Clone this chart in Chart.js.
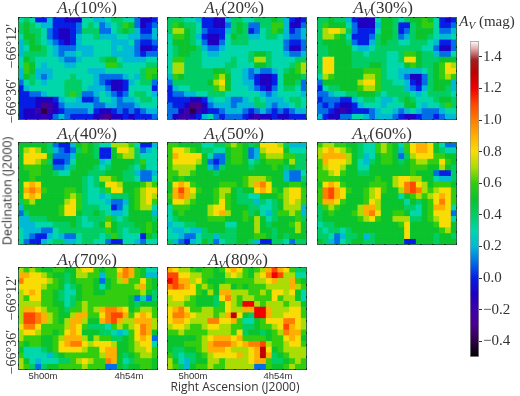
<!DOCTYPE html>
<html>
<head>
<meta charset="utf-8">
<script src="https://cdn.jsdelivr.net/npm/chart.js@4"></script>
<style>
  html, body { margin: 0; padding: 0; background: #fff; }
  body { position: relative; width: 520px; height: 396px; overflow: hidden; }
  canvas { position: absolute; }
  .panel { filter: blur(0.6px); }
  .txt { position: absolute; white-space: nowrap; color: #333; }
  .ttl { font: 17px "Liberation Serif", serif; transform: translateX(-50%); }
  .ttl sub { font-size: 11px; font-style: italic; vertical-align: -3px; line-height: 0; }
  .sans { font-family: "Open Sans", "Noto Sans", sans-serif; }
  .rot { transform: translate(-50%, -50%) rotate(-90deg); }
  .mid { transform: translateX(-50%); }
</style>
</head>
<body>
<script>
// Av maps, values in tenths of a mag, 18 rows (north first) x 24 columns
const av10 = [
[3,4,3,0,0,2,0,0,-1,-1,-1,3,3,2,2,3,4,4,3,3,1,-1,-1,0],
[4,5,4,3,2,2,0,0,0,0,1,3,4,3,1,2,3,4,6,5,1,-1,0,1],
[4,5,4,4,3,1,0,-1,-1,0,1,4,4,4,1,1,3,4,5,4,2,0,0,2],
[3,5,5,4,3,1,0,-1,-1,0,2,3,3,4,2,2,2,3,3,2,2,1,1,2],
[2,4,5,4,3,2,1,0,-1,0,2,3,3,3,3,3,2,2,2,3,1,0,0,1],
[2,3,5,5,4,3,2,1,1,1,2,2,2,3,3,3,2,3,2,2,1,-1,-1,0],
[2,4,4,4,4,3,2,1,2,2,3,2,2,3,3,3,2,2,2,2,1,0,1,1],
[3,5,4,3,3,3,3,2,1,1,2,3,3,3,4,5,5,3,2,2,2,2,3,3],
[3,6,5,3,2,3,3,3,2,2,3,3,3,3,3,6,6,4,3,3,3,3,4,4],
[2,6,5,2,2,2,3,3,3,3,3,3,2,2,2,3,3,3,3,3,3,4,6,6],
[2,5,4,2,1,2,3,3,3,4,3,3,3,2,1,1,1,1,2,3,2,4,6,5],
[1,3,4,3,2,3,3,3,4,4,4,3,3,2,1,0,-1,-1,0,2,3,4,4,1],
[0,2,3,3,3,3,3,3,4,4,4,3,2,2,2,1,-1,-1,0,3,3,3,3,0],
[0,0,1,1,2,3,3,3,4,6,4,1,1,2,3,2,1,0,1,3,4,4,3,2],
[0,0,0,-1,-1,-1,0,2,3,3,2,0,0,1,3,3,2,1,2,2,3,4,4,3],
[0,0,0,-1,-3,-2,-1,1,2,2,2,2,2,1,1,2,2,1,1,1,2,3,3,3],
[0,-1,-1,-2,-4,-2,-1,0,1,1,1,1,2,0,-1,-1,0,1,0,1,0,1,2,2],
[0,-1,-1,-1,-2,-1,1,2,1,0,0,0,0,-1,-2,-3,-1,-1,0,-1,0,0,0,1]
];
const av20 = [
[4,4,4,3,3,2,0,0,-1,-1,2,4,4,3,3,4,4,4,5,4,2,0,-1,0],
[4,6,5,4,4,3,0,0,-1,-1,1,4,5,4,1,1,4,4,6,6,2,-1,-1,1],
[4,7,7,5,4,3,1,0,0,0,2,4,5,4,0,1,3,4,6,5,2,0,1,2],
[3,6,6,5,4,2,0,-1,-1,0,3,5,4,4,2,2,3,4,4,3,2,1,1,2],
[3,5,5,5,4,3,1,-1,-1,1,3,4,4,4,3,3,3,3,3,3,1,0,0,1],
[3,4,5,5,5,4,2,1,1,2,3,3,3,3,3,3,3,3,3,3,1,-1,-1,1],
[3,4,5,5,4,4,3,2,2,3,3,3,3,3,4,5,5,4,3,3,2,1,1,2],
[3,6,6,4,4,4,3,3,3,3,3,4,3,3,4,7,7,4,3,3,3,3,4,4],
[3,7,7,4,4,4,3,3,3,3,4,4,3,3,3,5,5,4,3,3,3,4,6,7],
[3,7,7,4,4,4,4,4,5,5,4,3,3,2,1,2,1,1,2,3,4,5,6,7],
[2,6,5,4,4,4,4,4,6,7,5,3,3,2,1,0,-1,-1,0,3,5,5,5,4],
[1,4,4,4,4,4,4,5,7,8,5,3,3,2,2,0,-1,-1,0,3,5,5,4,1],
[0,2,3,3,4,4,4,4,6,7,5,3,3,3,2,1,0,-1,1,3,4,4,3,1],
[0,1,1,2,2,3,3,4,4,4,3,3,3,3,3,3,2,1,2,3,3,3,3,2],
[0,0,0,0,-1,-1,0,2,3,3,2,1,1,2,3,4,3,2,2,2,3,4,4,3],
[1,0,0,-1,-3,-3,-1,1,2,2,2,1,2,2,2,4,4,2,1,2,2,3,4,3],
[1,1,-1,-2,-4,-2,-1,0,0,1,2,2,2,1,0,1,2,1,0,1,0,1,2,2],
[1,-1,-2,-2,-1,0,2,3,1,0,1,1,1,0,-1,-2,-1,-1,0,-1,-1,0,0,0]
];
const av30 = [
[4,4,5,4,4,2,0,-1,-1,-1,3,5,5,4,3,4,5,5,6,5,3,0,-1,0],
[4,6,5,5,5,3,1,-1,-1,-1,2,5,5,4,0,0,4,5,6,6,3,0,0,1],
[4,7,8,8,7,4,1,0,0,0,3,5,5,4,0,1,4,5,5,5,3,1,1,2],
[4,7,7,6,5,3,0,0,0,1,4,5,5,4,1,2,4,5,5,4,3,2,2,3],
[4,5,5,5,5,4,1,0,0,2,4,5,4,4,3,3,4,4,4,3,2,0,0,1],
[4,4,5,5,5,5,3,2,2,3,4,4,4,4,4,4,4,4,3,3,1,-1,-1,1],
[4,4,5,5,5,5,4,4,3,4,4,4,3,3,4,6,6,5,4,4,2,1,1,3],
[4,8,8,5,5,5,4,4,4,4,4,4,3,3,4,8,8,5,4,4,4,5,5,5],
[4,8,8,5,5,5,4,4,4,5,5,4,3,3,3,5,6,5,4,4,5,6,8,7],
[4,8,8,5,5,5,5,5,6,6,6,4,3,3,2,2,2,2,3,4,5,6,8,8],
[3,7,6,5,5,5,5,5,7,7,6,4,3,3,2,1,-1,-1,1,4,5,6,7,6],
[1,5,5,5,5,5,5,7,8,8,6,4,4,3,3,2,0,-1,1,4,5,5,5,2],
[0,3,4,4,5,5,5,6,7,7,6,4,4,4,4,2,1,0,2,4,5,5,4,2],
[1,1,2,3,3,4,4,5,5,5,4,3,4,4,4,4,3,2,3,4,4,4,4,3],
[0,1,1,1,0,0,2,3,4,4,3,2,2,3,4,5,4,3,3,3,4,5,5,4],
[1,0,1,0,-1,-1,0,2,3,3,3,2,3,3,3,5,5,3,2,3,3,4,6,4],
[1,1,0,-1,-2,-1,0,0,0,1,2,3,3,2,1,2,3,2,1,1,1,2,3,3],
[2,0,-1,-1,1,1,3,3,2,1,2,2,2,1,0,-1,-1,0,1,1,0,1,2,2]
];
const av40 = [
[5,5,5,5,5,4,1,0,0,2,5,6,5,4,3,3,7,7,7,6,3,0,0,2],
[5,7,8,7,5,4,2,1,0,1,4,6,5,4,0,0,5,8,8,7,4,1,2,3],
[5,8,8,8,8,5,1,1,1,2,5,5,5,4,0,0,5,6,7,7,4,3,3,3],
[5,8,8,7,6,4,0,0,1,3,5,5,5,5,2,3,5,5,5,5,4,6,3,3],
[5,6,6,6,5,5,1,1,2,4,5,5,5,4,3,4,5,5,5,4,3,5,3,3],
[5,5,6,6,5,5,4,3,3,5,5,5,4,4,4,5,5,5,4,4,2,1,1,2],
[5,5,6,5,5,5,5,5,5,5,5,4,3,4,7,7,6,5,4,4,3,1,1,3],
[5,8,9,8,5,5,5,5,5,5,5,4,3,4,5,8,8,7,5,5,5,6,7,6],
[5,9,10,9,6,5,5,5,6,6,5,4,3,3,4,6,8,8,5,5,6,7,8,8],
[5,8,9,8,5,5,5,5,6,7,6,4,3,3,2,3,4,4,4,5,6,7,8,7],
[4,6,7,5,5,5,5,5,7,8,6,4,3,3,3,2,1,1,2,5,6,7,8,6],
[2,5,5,5,5,5,5,6,8,8,6,4,4,4,3,3,0,1,3,5,6,7,7,3],
[1,4,5,5,5,5,5,6,8,8,5,4,4,5,4,3,2,2,3,5,5,5,5,2],
[2,2,4,4,4,5,5,5,5,5,4,3,4,4,4,6,4,3,4,5,5,5,5,4],
[2,2,2,3,3,3,4,4,4,5,4,3,3,4,5,7,5,4,4,4,5,5,6,5],
[3,2,2,2,1,1,3,4,4,4,4,4,4,4,4,6,5,4,3,4,4,5,6,5],
[3,2,1,0,0,2,3,2,1,1,3,4,4,4,3,4,6,4,3,3,3,0,5,4],
[3,1,0,0,2,3,4,4,2,2,3,4,4,3,3,1,0,0,3,3,2,1,3,3]
];
const av50 = [
[6,6,5,5,5,5,3,3,4,4,6,7,6,5,4,5,8,8,8,7,4,2,2,2],
[6,8,8,7,6,5,4,4,3,3,5,6,6,5,1,2,7,8,8,8,5,3,3,3],
[6,9,8,8,8,8,5,3,1,1,5,6,6,5,1,2,6,7,7,7,6,6,4,4],
[6,8,8,8,8,7,5,1,0,1,5,6,6,5,3,4,5,6,6,6,5,7,4,4],
[6,7,7,7,7,5,5,2,1,4,5,5,5,5,4,5,5,5,6,5,4,5,4,4],
[6,6,7,7,6,5,5,5,4,5,5,5,5,5,5,5,5,5,5,5,2,1,1,3],
[6,5,6,5,5,5,5,5,5,5,5,5,5,6,7,7,7,6,5,5,2,1,1,4],
[5,8,9,8,6,5,5,5,5,6,6,6,5,6,7,9,10,8,5,5,5,6,6,5],
[5,9,11,9,8,6,5,5,6,7,7,5,4,5,5,8,9,8,6,5,7,8,8,6],
[6,9,10,9,7,5,5,5,6,7,6,5,4,4,3,3,5,5,5,6,7,8,8,6],
[5,8,8,7,6,5,5,5,6,8,6,5,4,4,4,2,4,3,4,5,7,8,7,6],
[3,6,6,6,5,5,5,7,8,8,6,5,5,5,4,4,3,3,4,5,7,7,7,2],
[3,5,6,5,5,5,5,7,8,9,7,5,5,6,4,5,3,2,4,6,6,7,6,2],
[3,4,5,5,5,5,5,6,6,6,5,5,5,6,5,7,5,3,4,5,5,5,6,4],
[2,3,3,4,4,5,5,5,5,5,3,3,5,5,5,7,5,4,5,5,5,6,7,5],
[3,2,2,3,2,2,4,5,5,5,4,4,5,5,5,7,5,5,4,5,5,5,7,5],
[3,3,2,1,1,3,4,4,2,4,4,4,5,5,5,6,6,5,4,5,4,5,5,5],
[4,2,1,0,2,3,5,4,1,3,4,4,5,5,4,2,0,0,4,4,3,1,4,4]
];
const av60 = [
[6,7,7,6,6,5,5,4,3,3,6,7,6,5,3,6,8,9,9,8,5,3,1,1],
[7,8,9,8,7,6,5,4,3,3,6,7,6,5,2,6,8,9,9,8,5,4,3,3],
[7,9,9,9,9,7,5,4,2,3,5,6,6,5,1,4,7,8,8,8,6,6,5,5],
[6,9,8,8,8,7,5,3,2,4,5,6,6,5,4,5,6,7,7,6,6,8,6,5],
[6,7,8,8,7,5,5,3,3,5,5,5,5,5,5,5,6,6,6,5,5,7,5,4],
[6,6,7,8,6,5,5,4,4,5,5,5,5,5,5,5,6,5,5,5,1,0,0,4],
[6,6,6,6,5,5,5,5,5,5,6,5,5,7,8,8,7,7,5,5,3,2,2,4],
[5,8,9,8,6,5,5,5,5,6,6,6,5,7,8,10,11,8,7,5,6,6,6,5],
[6,10,11,9,8,6,5,5,6,7,8,6,5,5,7,10,11,10,7,6,7,8,8,6],
[6,10,11,9,8,5,5,5,6,7,8,5,5,5,3,5,6,7,6,7,8,9,8,6],
[6,9,9,8,6,5,5,5,6,8,7,5,5,5,5,3,5,4,5,6,8,10,8,6],
[4,6,7,6,5,5,5,7,9,9,7,5,5,5,5,4,4,3,5,6,9,9,8,3],
[4,5,6,5,5,5,6,7,9,10,8,5,5,6,6,5,3,3,5,6,8,8,8,1],
[4,5,5,5,5,5,5,6,7,8,6,5,5,7,7,7,4,4,5,6,7,8,8,3],
[3,4,4,5,5,5,5,5,5,5,5,5,5,5,6,8,5,5,5,5,6,8,8,5],
[4,3,4,4,3,4,5,5,5,5,5,5,5,5,5,8,5,5,5,5,5,6,7,5],
[4,4,3,1,2,4,4,5,2,4,5,5,5,5,5,8,5,5,5,5,4,5,5,4],
[5,4,2,1,3,4,5,5,4,4,5,5,5,5,5,0,0,5,5,5,4,5,5,5]
];
const av70 = [
[7,6,7,6,5,5,6,6,5,5,7,8,8,6,5,6,6,8,10,9,6,5,3,3],
[9,9,8,8,7,6,5,5,4,5,7,7,6,6,2,6,6,9,10,9,6,5,2,2],
[10,8,8,8,8,7,6,5,4,5,6,6,6,5,1,5,6,7,9,6,6,8,6,5],
[8,8,8,8,7,6,6,5,3,4,5,6,6,5,3,5,6,6,6,6,7,9,6,5],
[7,8,9,8,6,6,5,4,3,3,5,6,6,5,5,6,6,6,6,6,6,7,5,4],
[7,6,8,8,6,6,5,4,3,4,5,6,6,6,6,6,6,6,6,5,1,3,1,4],
[7,7,7,7,6,6,5,5,3,4,6,7,6,6,6,6,6,6,6,5,4,5,5,5],
[7,9,9,8,7,6,6,5,4,6,6,7,6,7,9,10,10,9,8,5,6,7,7,6],
[7,11,11,10,9,7,6,5,5,7,9,9,6,6,8,10,11,11,9,6,8,9,8,6],
[7,11,11,10,9,7,6,5,7,9,9,7,5,5,9,10,11,9,7,7,9,9,9,7],
[8,10,10,8,6,6,6,6,7,9,8,6,4,4,4,3,6,7,6,7,8,10,9,7],
[7,8,8,7,6,6,5,6,8,9,8,5,5,5,4,4,3,2,3,6,8,10,9,5],
[7,6,6,6,5,5,6,7,9,9,9,7,5,7,6,6,4,4,5,6,8,9,8,1],
[6,5,6,6,5,5,6,8,9,10,10,8,7,8,8,8,7,5,5,6,7,8,8,3],
[5,3,3,3,4,5,6,8,8,8,8,7,6,6,8,9,9,5,5,6,7,7,8,6],
[6,3,3,3,3,2,4,5,6,6,6,6,6,6,7,9,9,5,4,5,6,7,7,6],
[7,5,3,2,3,3,3,4,4,6,7,8,7,6,6,10,9,5,3,4,6,6,6,5],
[7,6,4,1,4,5,5,6,6,6,6,7,6,6,6,1,1,5,4,5,5,6,6,5]
];
const av80 = [
[9,8,7,7,6,5,6,6,5,6,8,9,8,6,5,6,7,9,11,9,8,6,4,4],
[11,11,8,8,7,7,6,6,5,5,7,8,7,6,5,7,8,10,12,11,7,7,3,3],
[12,11,9,9,7,8,6,5,5,5,6,6,6,6,6,7,7,8,9,7,7,9,6,5],
[10,11,10,9,8,6,7,6,5,7,7,5,6,5,6,6,6,7,7,7,7,9,7,6],
[8,8,8,8,8,6,5,7,5,9,9,7,7,7,6,6,7,6,8,8,7,8,5,3],
[7,8,8,7,6,5,5,5,4,8,10,7,6,7,7,6,6,6,8,6,7,7,5,3],
[7,7,7,6,6,5,5,5,4,6,8,7,6,12,12,7,6,7,7,7,6,7,7,5],
[8,9,10,8,6,6,7,7,6,6,8,7,7,9,9,12,12,9,7,7,7,8,8,6],
[8,10,10,9,8,7,7,7,6,7,9,13,8,5,4,12,12,9,7,7,8,8,8,6],
[8,9,9,8,7,7,7,10,10,8,8,9,6,3,3,5,6,8,8,8,10,10,8,7],
[7,8,8,7,6,6,7,8,8,7,7,6,6,4,4,5,6,6,7,8,11,9,8,7],
[6,6,7,6,6,6,6,7,7,7,7,6,8,4,5,5,4,5,6,7,10,9,9,6],
[5,5,5,5,5,6,7,8,9,9,9,8,9,6,6,6,6,5,6,6,8,9,8,5],
[5,5,5,6,6,6,7,9,10,10,10,9,8,9,10,10,11,7,6,6,7,8,8,6],
[5,4,4,5,5,6,7,9,9,9,8,7,7,7,8,9,13,8,5,6,7,7,7,7],
[6,4,3,4,4,5,6,7,8,8,8,8,9,7,8,9,13,9,4,5,6,7,7,7],
[7,5,3,2,4,5,5,7,7,6,7,7,7,7,8,9,9,6,4,4,5,6,7,6],
[7,6,4,2,5,6,6,7,6,6,7,7,7,7,7,1,1,6,5,5,6,7,6,6]
];

const columns = ["c0","c1","c2","c3","c4","c5","c6","c7","c8","c9","c10","c11","c12","c13","c14","c15","c16","c17","c18","c19","c20","c21","c22","c23"];
const percentLabels = ["10%","20%","30%","40%","50%","60%","70%","80%"];
const barTicks = [-0.4,-0.2,0,0.2,0.4,0.6,0.8,1.0,1.2,1.4];

// colour table: [mag, r, g, b]
const colorStops = [
  [-0.5,0,0,0],[-0.4,45,0,70],[-0.3,75,0,140],[-0.2,60,0,170],[-0.1,30,0,195],[0,5,30,230],
  [0.1,0,110,230],[0.2,0,185,215],[0.3,0,215,170],[0.4,0,205,100],[0.5,10,195,45],[0.6,50,205,15],
  [0.7,170,220,5],[0.8,250,220,5],[0.9,255,175,0],[1.0,255,125,0],[1.1,255,70,0],[1.2,240,0,0],
  [1.3,190,0,0],[1.38,160,30,30],[1.45,225,170,170],[1.5,255,255,255]
];

function colorFor(mag) {
  for (let i = 1; i < colorStops.length; i++) {
    const a = colorStops[i - 1], b = colorStops[i];
    if (mag <= b[0]) {
      const t = Math.max(0, (mag - a[0]) / (b[0] - a[0]));
      return `rgb(${a[1] + t * (b[1] - a[1])},${a[2] + t * (b[2] - a[2])},${a[3] + t * (b[3] - a[3])})`;
    }
  }
  return "rgb(255,255,255)";
}

// dotted frame with the little ticks the maps have
const framePlugin = {
  id: "frame",
  afterDraw(chart) {
    const c = chart.ctx, a = chart.chartArea;
    c.save();
    c.strokeStyle = "#2e6b45";
    c.lineWidth = 1;
    c.strokeRect(a.left + 0.5, a.top + 0.5, a.width - 1, a.height - 1);
    c.strokeStyle = "#000";
    c.setLineDash([1, 11]);
    c.strokeRect(a.left + 0.5, a.top + 0.5, a.width - 1, a.height - 1);
    c.restore();
  }
};

function addCanvas(x, y, w, h, cls) {
  const canvas = document.createElement("canvas");
  canvas.width = w;
  canvas.height = h;
  canvas.style.left = x + "px";
  canvas.style.top = y + "px";
  canvas.style.width = w + "px";
  canvas.style.height = h + "px";
  if (cls) canvas.className = cls;
  document.body.appendChild(canvas);
  return canvas;
}

function drawMap(rows, x, y, w, h) {
  // stacked bars, one dataset per row, south row first
  const datasets = rows.slice().reverse().map(function (row) {
    return {
      data: row.map(function () { return 1; }),
      backgroundColor: row.map(function (v) { return colorFor(v / 10); }),
      barPercentage: 1,
      categoryPercentage: 1,
      borderWidth: 0
    };
  });
  new Chart(addCanvas(x, y, w, h, "panel"), {
    type: "bar",
    data: { labels: columns, datasets: datasets },
    options: {
      responsive: false,
      animation: false,
      layout: { padding: 0 },
      plugins: { legend: { display: false }, tooltip: { enabled: false } },
      scales: {
        x: { stacked: true, display: false },
        y: { stacked: true, display: false, min: 0, max: rows.length }
      }
    },
    plugins: [framePlugin]
  });
}

function addText(html, x, y, cls, extra) {
  const el = document.createElement("div");
  el.className = "txt " + cls;
  el.innerHTML = html;
  el.style.left = x + "px";
  el.style.top = y + "px";
  if (extra) el.style.cssText += extra;
  document.body.appendChild(el);
}

const maps = [av10, av20, av30, av40, av50, av60, av70, av80];
const panelX = [18, 167, 317, 18, 167, 317, 18, 167];
const panelY = [17, 17, 17, 142, 142, 142, 267, 267];
const titleX = [87, 234, 383, 87, 234, 382, 87, 238];
const titleY = [-2, -2, -2, 124, 124, 124, 250, 250];

maps.forEach(function (rows, i) {
  drawMap(rows, panelX[i], panelY[i], 140, 103);
  addText("<i>A</i><sub>V</sub>(" + percentLabels[i] + ")", titleX[i], titleY[i], "ttl");
});

// colour bar
new Chart(addCanvas(470, 31, 50, 336), {
  type: "bar",
  data: {
    labels: ["Av"],
    datasets: [{
      data: [[-0.5, 1.5]],
      barPercentage: 1,
      categoryPercentage: 1,
      borderWidth: 1,
      borderColor: "#999",
      borderSkipped: false,
      backgroundColor: function (context) {
        const area = context.chart.chartArea;
        if (!area) return "#fff";
        const yScale = context.chart.scales.y;
        const grad = context.chart.ctx.createLinearGradient(0, area.bottom, 0, area.top);
        colorStops.forEach(function (s) {
          const pos = (yScale.getPixelForValue(s[0]) - area.bottom) / (area.top - area.bottom);
          grad.addColorStop(Math.min(1, Math.max(0, pos)), `rgb(${s[1]},${s[2]},${s[3]})`);
        });
        return grad;
      }
    }]
  },
  options: {
    responsive: false,
    animation: false,
    layout: { padding: 0 },
    plugins: { legend: { display: false }, tooltip: { enabled: false } },
    scales: {
      x: { display: false },
      y: {
        position: "right",
        min: -0.5,
        max: 1.5,
        afterFit: function (scale) { scale.width = 41; },
        afterBuildTicks: function (scale) {
          scale.ticks = barTicks.map(function (v) { return { value: v }; });
        },
        grid: { display: true, drawOnChartArea: false, tickLength: 3, color: "#333" },
        border: { display: false },
        ticks: {
          padding: 1,
          color: "#333",
          font: { family: "'Liberation Serif', serif", size: 15 },
          callback: function (v) { return v.toFixed(1).replace("-", "\u2212"); }
        }
      }
    }
  }
});

// axis and bar captions
addText("<i>A</i><sub>V</sub> (mag)", 487, 13, "ttl", "font-size:15px;");
addText("\u221266\u00b012\u2032", 12, 46, "rot", "font:14px 'Liberation Serif',serif;");
addText("\u221266\u00b036\u2032", 12, 101, "rot", "font:14px 'Liberation Serif',serif;");
addText("\u221266\u00b012\u2032", 12, 298, "rot", "font:14px 'Liberation Serif',serif;");
addText("\u221266\u00b036\u2032", 12, 352, "rot", "font:14px 'Liberation Serif',serif;");
addText("Declination (J2000)", 7, 191, "rot sans", "font-size:12.5px;");
addText("5h00m", 43, 370, "mid", "font:9.5px 'Liberation Sans',sans-serif;");
addText("4h54m", 129, 370, "mid", "font:9.5px 'Liberation Sans',sans-serif;");
addText("5h00m", 193, 370, "mid", "font:9.5px 'Liberation Sans',sans-serif;");
addText("4h54m", 278, 370, "mid", "font:9.5px 'Liberation Sans',sans-serif;");
addText("Right Ascension (J2000)", 235, 378, "mid sans", "font-size:12px;");
</script>
</body>
</html>
